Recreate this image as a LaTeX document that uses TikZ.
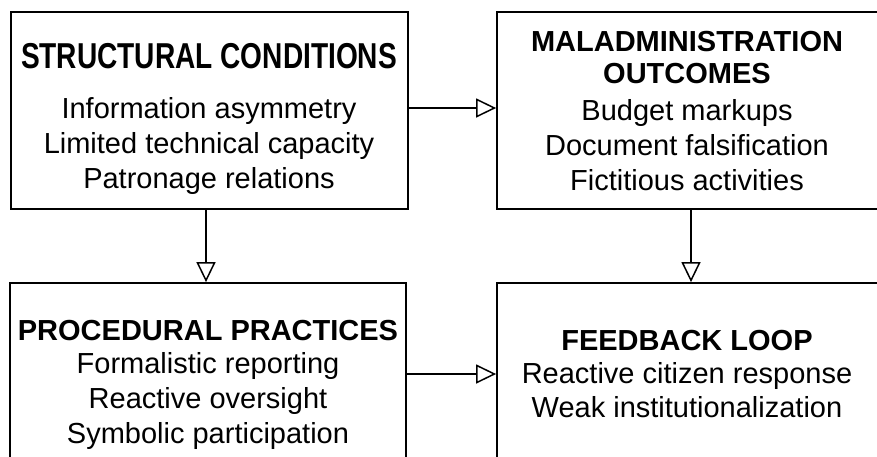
\documentclass[tikz,border=0pt]{standalone}
\usepackage{fontspec}
\setmainfont{Liberation Sans}
\usetikzlibrary{arrows.meta}
\begin{document}
\begin{tikzpicture}[x=1pt,y=1pt,
  box/.style={draw=black,line width=1.8pt,minimum width=#1,inner sep=0pt},
  arr/.style={line width=1.5pt,-{Triangle[open,length=20pt,width=19pt,line width=1.5pt]}},
  body/.style={anchor=base,font=\fontsize{29}{29}\selectfont,inner sep=0pt},
  ttl/.style={anchor=base,font=\fontsize{29}{29}\selectfont\bfseries,inner sep=0pt}]
\useasboundingbox (0,0) rectangle (877,-456);
\node[box=397pt,minimum height=197pt] (TL) at (209.5,-110.5) {};
\node[box=403pt,minimum height=197pt] (TR) at (698.5,-110.5) {};
\node[box=396pt,minimum height=197pt] (BL) at (208,-381.5) {};
\node[box=403pt,minimum height=197pt] (BR) at (698.5,-381.5) {};
% top-left
\node[anchor=base,inner sep=0pt,font=\fontsize{36}{36}\selectfont\bfseries] (t1) at (209,-68) {\scalebox{0.78}[1]{STRUCTURAL CONDITIONS}};
\node[body] (a1) at (209,-118) {Information asymmetry};
\node[body] (a2) at (209,-153) {Limited technical capacity};
\node[body] (a3) at (209,-188) {Patronage relations};
% top-right
\node[ttl] (t2) at (687,-51) {MALADMINISTRATION};
\node[ttl] (t2b) at (687,-83) {OUTCOMES};
\node[body] (b1) at (687,-120) {Budget markups};
\node[body] (b2) at (687,-155) {Document falsification};
\node[body] (b3) at (687,-190) {Fictitious activities};
% bottom-left
\node[ttl] (t3) at (208,-340) {PROCEDURAL PRACTICES};
\node[body] (c1) at (208,-373) {Formalistic reporting};
\node[body] (c2) at (208,-408) {Reactive oversight};
\node[body] (c3) at (208,-443) {Symbolic participation};
% bottom-right
\node[ttl] (t4) at (687,-350) {FEEDBACK LOOP};
\node[body] (d1) at (687,-383) {Reactive citizen response};
\node[body] (d2) at (687,-417) {Weak institutionalization};
% arrows
\draw[arr] ([yshift=2.5pt]TL.east) -- ([yshift=2.5pt]TR.west);
\draw[arr] ([xshift=-3.5pt]TL.south) -- ([xshift=-3.5pt]TL.south |- BL.north);
\draw[arr] ([xshift=-7.5pt]TR.south) -- ([xshift=-7.5pt]BR.north);
\draw[arr] ([yshift=7.5pt]BL.east) -- ([yshift=7.5pt]BL.east -| BR.west);
\end{tikzpicture}
\end{document}
